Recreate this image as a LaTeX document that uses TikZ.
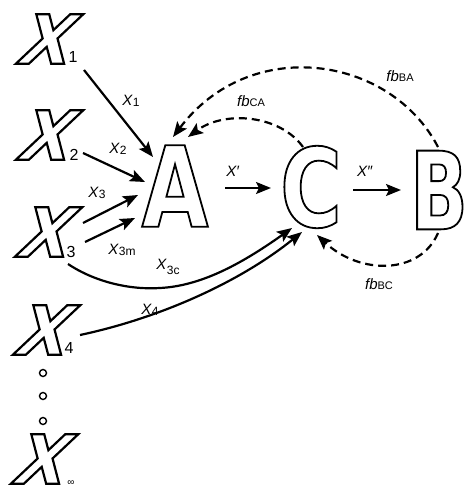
\documentclass[tikz,border=0pt]{standalone}
\usepackage{fontspec}
\setmainfont{Liberation Sans}
\newfontfamily\fX{DejaVu Sans}[FakeSlant=0.4, FakeStretch=0.97]
\newfontfamily\fA{DejaVu Sans}[FakeStretch=0.77]
\newfontfamily\fC{DejaVu Sans}[FakeStretch=0.77]
\newfontfamily\fB{DejaVu Sans}[FakeStretch=0.7]
\usetikzlibrary{arrows.meta}
\newcommand\outl[1]{\special{pdf:literal direct 1 Tr 1.8 w}#1\special{pdf:literal direct 0 Tr}}
\newcommand\outlx[1]{\special{pdf:literal direct 1 Tr 2.2 w}#1\special{pdf:literal direct 0 Tr}}
\newcommand\lsub[1]{\raisebox{-1.5pt}{\fontsize{12}{12}\selectfont #1}}
\newcommand\fbsub[1]{{\fontsize{11}{11}\selectfont #1}}
\begin{document}
\begin{tikzpicture}[x=1pt,y=-1pt,
  bigX/.style={inner sep=0pt, font=\fontsize{68}{68}\fX\bfseries},
  bigA/.style={inner sep=0pt, font=\fontsize{112}{112}\fA\bfseries},
  bigC/.style={inner sep=0pt, font=\fontsize{109}{109}\fC\bfseries},
  bigB/.style={inner sep=0pt, font=\fontsize{108}{108}\fB\bfseries},
  subs/.style={inner sep=0pt, font=\fontsize{16}{16}\selectfont},
  lab/.style={inner sep=0pt, font=\fontsize{15}{15}\selectfont},
  arr/.style={line width=2.2pt, -{Stealth[length=15pt,width=12pt,inset=3pt]}},
  fbarr/.style={arr, dash pattern=on 8pt off 5pt},
  dotc/.style={draw, line width=1.4pt, circle, minimum size=7pt, inner sep=0pt}]
\useasboundingbox (0,0) rectangle (467,489);
% big letters
\node[bigX] (X1) at (40,39) {\outlx{X}};
\node[bigX] (X2) at (40,135) {\outlx{X}};
\node[bigX] (X3) at (39,232) {\outlx{X}};
\node[bigX] (X4) at (37,330) {\outlx{X}};
\node[bigX] (Xinf) at (35,459) {\outlx{X}};
\node[bigA] (A) at (175,186) {\outl{A}};
\node[bigC] (C) at (311,187) {\outl{C}};
\node[bigB] (B) at (439,190) {\outl{B}};
% subscripts
\node[subs] (s1) at (73,57) {1};
\node[subs] (s2) at (74,155) {2};
\node[subs] (s3) at (71,252) {3};
\node[subs] (s4) at (69,348) {4};
\node[inner sep=0pt, font=\fontsize{10}{10}\selectfont] (sinf) at (71,483) {∞};
% dots
\node[dotc] (d1) at (43,373) {};
\node[dotc] (d2) at (43,396) {};
\node[dotc] (d3) at (43,421) {};
% connector ends
\coordinate (a1s) at (84,70);   \coordinate (a1e) at (153,157);
\coordinate (a2s) at (83,153);  \coordinate (a2e) at (145,182);
\coordinate (a3s) at (83,223);  \coordinate (a3e) at (138,195);
\coordinate (a3ms) at (85,242); \coordinate (a3me) at (135,218);
\coordinate (c3s) at (68,264);  \coordinate (c3e) at (292,228);
\coordinate (c4s) at (80,335);  \coordinate (c4e) at (302,232);
\coordinate (xps) at (225,188); \coordinate (xpe) at (271,188);
\coordinate (xpps) at (353,190);\coordinate (xppe) at (401,190);
\coordinate (bas) at (438,147); \coordinate (bae) at (173,137);
\coordinate (cas) at (303,147); \coordinate (cae) at (188,137);
\coordinate (bcs) at (438,233); \coordinate (bce) at (317,235);
% solid arrows
\draw[arr] (a1s) -- (a1e);
\draw[arr] (a2s) -- (a2e);
\draw[arr] (a3s) -- (a3e);
\draw[arr] (a3ms) -- (a3me);
\draw[arr] (c3s) .. controls (95,282) and (130,290) .. (160,288) .. controls (200,286) and (240,265) .. (c3e);
\draw[arr] (c4s) .. controls (160,318) and (240,282) .. (c4e);
\draw[arr] (xps) -- (xpe);
\draw[arr] (xpps) -- (xppe);
% dashed feedback arrows
\draw[fbarr] (bas) .. controls (390,55) and (250,35) .. (bae);
\draw[fbarr] (cas) .. controls (280,115) and (225,110) .. (cae);
\draw[fbarr] (bcs) .. controls (420,275) and (360,275) .. (bce);
% labels
\node[lab] (l1) at (131,101) {\textit{X}\lsub{1}};
\node[lab] (l2) at (118,149) {\textit{X}\lsub{2}};
\node[lab] (l3) at (97,193) {\textit{X}\lsub{3}};
\node[lab] (l3m) at (122,250) {\textit{X}\lsub{3m}};
\node[lab] (l3c) at (168,267) {\textit{X}\raisebox{-5pt}{\fontsize{12}{12}\selectfont 3c}};
\node[lab] (l4) at (150,310) {\textit{X}\lsub{4}};
\node[lab] (lp) at (233,171) {\textit{X}′};
\node[lab] (lpp) at (365,171) {\textit{X}″};
\node[lab] (lca) at (251,101) {\textit{fb}\fbsub{CA}};
\node[lab] (lba) at (400,76) {\textit{fb}\fbsub{BA}};
\node[lab] (lbc) at (379,284) {\textit{fb}\fbsub{BC}};
\end{tikzpicture}
\end{document}
